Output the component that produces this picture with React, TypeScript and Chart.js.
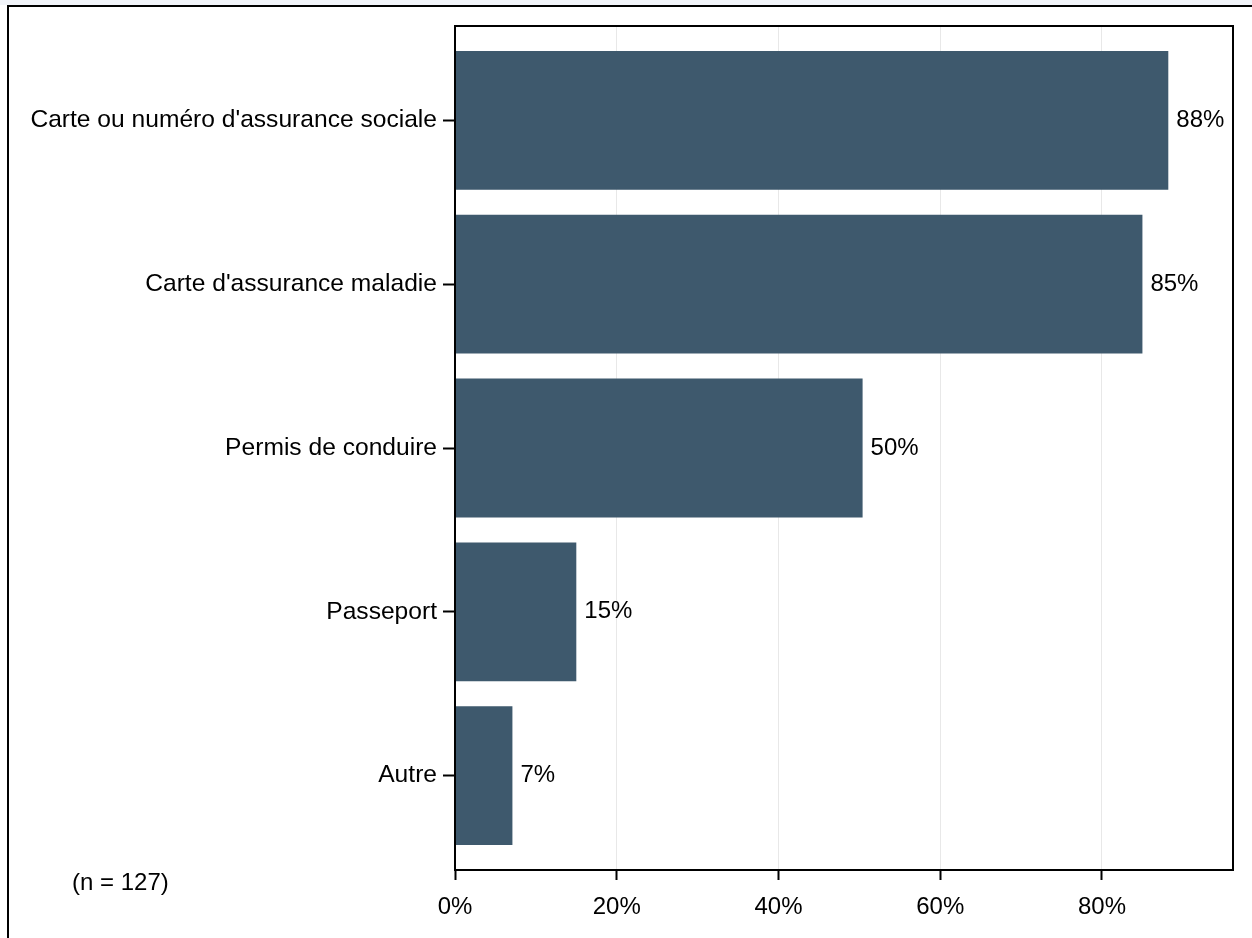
import React, { useEffect, useRef } from "react";
import { Chart, registerables } from "chart.js";

Chart.register(...registerables);

const categories = [
  "Carte ou numéro d'assurance sociale",
  "Carte d'assurance maladie",
  "Permis de conduire",
  "Passeport",
  "Autre",
];
const values = [88.2, 85.0, 50.4, 15.0, 7.1];
const valueLabels = ["88%", "85%", "50%", "15%", "7%"];
const xTickValues = [0, 20, 40, 60, 80];
const sampleNote = "(n = 127)";

const FONT = "'Liberation Sans', Arial, Helvetica, sans-serif";
const BAR_COLOR = "#3E596D";

export default function App() {
  const canvasRef = useRef<HTMLCanvasElement | null>(null);

  useEffect(() => {
    document.body.style.margin = "0";
    const canvas = canvasRef.current;
    if (!canvas) return;

    const overlay = {
      id: "overlay",
      afterDraw(chart: any) {
        const ctx = chart.ctx;
        const { left, top, right, bottom } = chart.chartArea;
        ctx.save();
        ctx.strokeStyle = "#000";
        ctx.lineWidth = 2;
        ctx.strokeRect(left, top, right - left, bottom - top);
        ctx.fillStyle = "#000";
        ctx.font = `24px ${FONT}`;
        ctx.textAlign = "left";
        ctx.textBaseline = "middle";
        const meta = chart.getDatasetMeta(0);
        meta.data.forEach((bar: any, i: number) => {
          ctx.fillText(valueLabels[i], bar.x + 8, bar.y);
        });
        ctx.fillText(sampleNote, 72, 883);
        ctx.restore();
      },
    };

    const chart = new Chart(canvas, {
      type: "bar",
      data: {
        datasets: [
          {
            data: values.map((v, i) => ({ x: v, y: i })) as any,
            backgroundColor: BAR_COLOR,
            borderWidth: 0,
            categoryPercentage: 1,
            barPercentage: 0.8476,
          },
        ],
      },
      options: {
        indexAxis: "y",
        responsive: false,
        animation: false,
        layout: { padding: { top: 26, right: 19, left: 0, bottom: 0 } },
        plugins: {
          legend: { display: false },
          tooltip: { enabled: false },
        },
        scales: {
          x: {
            type: "linear",
            position: "bottom",
            min: 0,
            max: 96.2,
            offset: false,
            afterBuildTicks: (s: any) => {
              s.ticks = xTickValues.map((v) => ({ value: v }));
            },
            afterFit: (s: any) => {
              s.height = 68;
            },
            border: { display: false },
            grid: {
              offset: false,
              color: "#E8E8E8",
              lineWidth: 1,
              drawTicks: true,
              tickColor: "#000",
              tickLength: 10,
              tickWidth: 2,
            },
            ticks: {
              callback: (v: any) => `${v}%`,
              color: "#000",
              font: { family: FONT, size: 24 },
              padding: 13,
              maxRotation: 0,
            },
          },
          y: {
            type: "linear",
            reverse: true,
            min: -0.5762,
            max: 4.5762,
            offset: false,
            afterBuildTicks: (s: any) => {
              s.ticks = categories.map((_, i) => ({ value: i }));
            },
            afterFit: (s: any) => {
              s.width = 455;
            },
            border: { display: false },
            grid: {
              offset: false,
              drawOnChartArea: false,
              drawTicks: true,
              tickLength: 12,
              tickWidth: 2,
              tickColor: "#000",
              color: "#000",
            },
            ticks: {
              callback: (v: any) => categories[v as number] ?? "",
              color: "#000",
              font: { family: FONT, size: 24.6 },
              padding: 6,
              autoSkip: false,
            },
          },
        },
      } as any,
      plugins: [overlay],
    });

    return () => chart.destroy();
  }, []);

  return (
    <div
      style={{
        position: "relative",
        width: 1252,
        height: 938,
        background: "#fff",
        overflow: "hidden",
      }}
    >
      <div
        style={{
          position: "absolute",
          left: 0,
          top: 0,
          width: 1252,
          height: 5,
          background: "#F1F4F9",
        }}
      />
      <div
        style={{
          position: "absolute",
          left: 7,
          top: 5,
          right: 0,
          bottom: 0,
          borderTop: "2px solid #000",
          borderLeft: "2px solid #000",
        }}
      />
      <canvas
        ref={canvasRef}
        width={1252}
        height={938}
        style={{ position: "absolute", left: 0, top: 0, width: 1252, height: 938 }}
      />
    </div>
  );
}
